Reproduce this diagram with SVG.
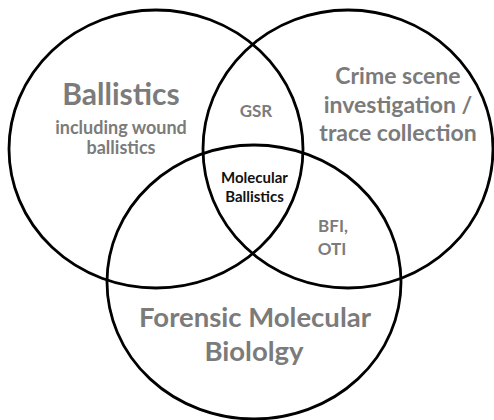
<svg xmlns="http://www.w3.org/2000/svg" width="494" height="420" viewBox="0 0 494 420">
<style>
.c{fill:none;stroke:#000;stroke-width:2.8}
.t{font-family:Lato,"Open Sans","Liberation Sans",sans-serif;font-weight:bold;fill:#7b7b7b;text-anchor:middle}
.k{font-family:Lato,"Open Sans","Liberation Sans",sans-serif;font-weight:bold;fill:#111;text-anchor:middle}
</style>
<rect width="494" height="420" fill="#fff"/>
<g id="ballistics">
<ellipse class="c" cx="156" cy="149" rx="147" ry="139"/>
<text class="t" x="121" y="105" font-size="30">Ballistics</text>
<text class="t" x="121" y="134" font-size="18">including wound</text>
<text class="t" x="121" y="154" font-size="18">ballistics</text>
</g>
<g id="crime-scene">
<ellipse class="c" cx="348" cy="149" rx="145" ry="139"/>
<text class="t" x="398" y="84" font-size="23">Crime scene</text>
<text class="t" x="398" y="113" font-size="23">investigation /</text>
<text class="t" x="398" y="141" font-size="23">trace collection</text>
</g>
<g id="forensic-molecular-biology">
<ellipse class="c" cx="254" cy="282" rx="147" ry="137"/>
<text class="t" x="255" y="327" font-size="27.5">Forensic Molecular</text>
<text class="t" x="254" y="361" font-size="27.5">Biololgy</text>
</g>
<g id="gsr"><text class="t" x="256" y="117" font-size="17">GSR</text></g>
<g id="molecular-ballistics">
<text class="k" x="254.5" y="183" font-size="15">Molecular</text>
<text class="k" x="254.5" y="202" font-size="15">Ballistics</text>
</g>
<g id="bfi-oti">
<text class="t" x="333" y="232" font-size="17">BFI,</text>
<text class="t" x="332" y="255" font-size="17">OTI</text>
</g>
<g id="connectors"/>
</svg>
